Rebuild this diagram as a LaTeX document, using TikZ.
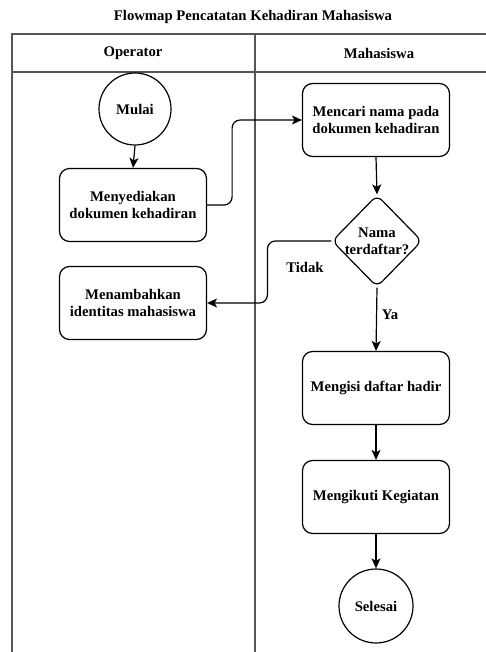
\documentclass[tikz,border=0pt]{standalone}
\usepackage{fontspec}
\setmainfont{Liberation Serif}
\usetikzlibrary{arrows.meta,shapes.geometric}
\definecolor{lane}{HTML}{555555}
\tikzset{
  lanes/.style={draw=lane, line width=1.8pt},
  txt/.style={font=\bfseries\fontsize{14.7}{17}\selectfont, align=center, inner sep=0pt},
  proc/.style={txt, draw, line width=1.2pt, rounded corners=10pt, minimum width=147pt, minimum height=73pt},
  term/.style={txt, draw, line width=1.2pt, circle, minimum size=72pt},
  decision/.style={draw, line width=1.2pt, diamond, rounded corners=7pt, minimum width=90pt, minimum height=92pt, inner sep=0pt},
  flow/.style={line width=1.2pt, -{Stealth[length=10pt,width=9pt,inset=2.5pt]}},
}
\begin{document}
\begin{tikzpicture}[x=1pt,y=1pt]
\useasboundingbox (0,0) rectangle (486,-652);

% title and swimlanes
\node[txt] (title) at (253,-17) {Flowmap Pencatatan Kehadiran Mahasiswa};
\draw[lanes] (486,-34) -- (12,-34) -- (12,-652);
\draw[lanes] (12,-72) -- (486,-72);
\draw[lanes] (255,-34) -- (255,-652);
\node[txt] (hop) at (133,-53) {Operator};
\node[txt] (hmh) at (379,-53) {Mahasiswa};

% flow nodes
\node[term] (start) at (135,-109) {Mulai};
\node[proc] (prep) at (133,-205) {Menyediakan\\dokumen kehadiran};
\node[proc] (find) at (376,-120) {Mencari nama pada\\dokumen kehadiran};
\node[decision] (dec) at (377,-241) {};
\node[txt] (dectext) at (dec) {Nama\\terdaftar?};
\node[proc] (add) at (133,-303) {Menambahkan\\identitas mahasiswa};
\node[proc] (fill) at (376,-388) {Mengisi daftar hadir};
\node[proc] (join) at (376,-497) {Mengikuti Kegiatan};
\node[term, minimum size=74pt] (stop) at (376,-606) {Selesai};

% connectors
\draw[flow] (start.south) -- (prep.north);
\draw[flow, rounded corners=8pt] (prep.east) -- ++(25,0) |- (find.west);
\draw[flow] (find.south) -- (dec.north);
\draw[flow, rounded corners=8pt] (dec.west) -- ++(-64,0) |- (add.east);
\draw[flow] (dec.south) -- (fill.north);
\draw[flow] (fill.south) -- (join.north);
\draw[flow] (join.south) -- (stop.north);

% branch labels
\node[txt] (ltidak) at (305,-267) {Tidak};
\node[txt] (lya) at (390,-315) {Ya};
\end{tikzpicture}
\end{document}
